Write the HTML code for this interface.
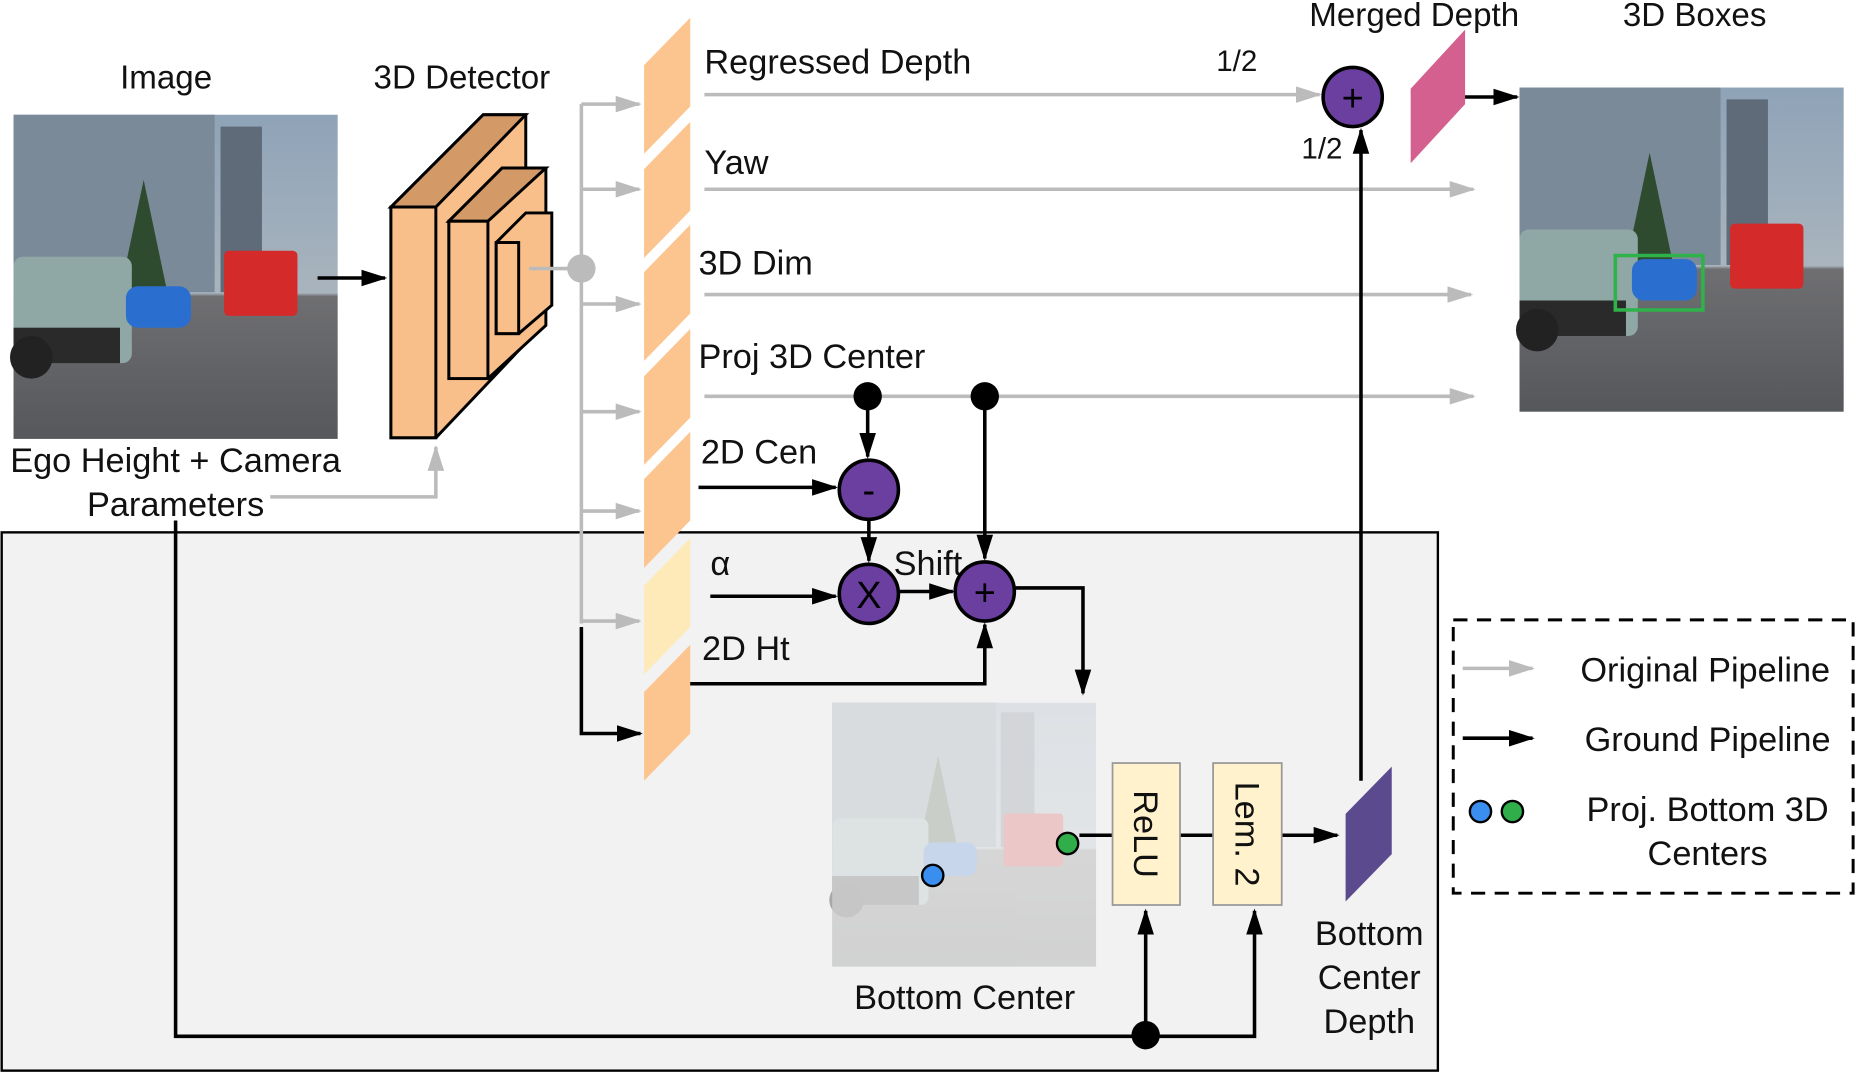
<!DOCTYPE html>
<html><head><meta charset="utf-8"><style>html,body{margin:0;padding:0;background:#fff}svg{display:block}text{font-family:"Liberation Sans",sans-serif;fill:#111}</style></head><body>
<svg width="1856" height="1073" viewBox="0 0 1568 907" xmlns="http://www.w3.org/2000/svg">
<defs>
<marker id="ag" markerWidth="22" markerHeight="14" refX="20" refY="7" orient="auto" markerUnits="userSpaceOnUse"><path d="M0,0 L22,7 L0,14 z" fill="#bbb"/></marker>
<marker id="ab2" markerWidth="22" markerHeight="14" refX="20" refY="7" orient="auto" markerUnits="userSpaceOnUse"><path d="M0,0 L22,7 L0,14 z" fill="#000"/></marker>
<linearGradient id="sky" x1="0" y1="0" x2="0" y2="1"><stop offset="0" stop-color="#8fa3b8"/><stop offset="0.55" stop-color="#a9b4bd"/><stop offset="0.56" stop-color="#6f6f72"/><stop offset="1" stop-color="#55575a"/></linearGradient>
<g id="photo">
<rect x="0" y="0" width="274" height="274" fill="url(#sky)"/>
<rect x="0" y="0" width="170" height="150" fill="#7b8a99"/>
<rect x="175" y="10" width="35" height="140" fill="#5f6b78"/>
<path d="M90,150 L110,55 L130,150z" fill="#2e4a2f"/>
<rect x="0" y="120" width="100" height="90" rx="8" fill="#8fa8a6"/>
<rect x="0" y="180" width="90" height="30" fill="#2a2a2a"/>
<circle cx="15" cy="205" r="18" fill="#222"/>
<rect x="95" y="145" width="55" height="35" rx="10" fill="#2a6fd0"/>
<rect x="178" y="115" width="62" height="55" rx="4" fill="#d42a2a"/>
</g>
</defs>

<rect x="1" y="450" width="1214" height="455" fill="#f2f2f2" stroke="#000" stroke-width="2"/>

<use href="#photo" x="11" y="97"/>
<text x="140" y="75" font-size="28" text-anchor="middle">Image</text>
<line x1="268" y1="235" x2="325" y2="235" stroke="#000" stroke-width="3" marker-end="url(#ab2)"/>

<text x="390" y="75" font-size="28" text-anchor="middle">3D Detector</text>
<g stroke="#000" stroke-width="2.5">
<path d="M330,175 L408,97 L444,97 L444,290 L368,370 L330,370z" fill="#f9bf8a"/>
<path d="M330,175 L408,97 L444,97 L368,175z" fill="#d39a68"/>
<rect x="330" y="175" width="38" height="195" fill="#f9bf8a"/>
<path d="M379,187 L424,142 L461,142 L461,275 L412,320 L379,320z" fill="#f9bf8a"/>
<path d="M379,187 L424,142 L461,142 L412,187z" fill="#d39a68"/>
<rect x="379" y="187" width="33" height="133" fill="#f9bf8a"/>
<path d="M419,205 L444,180 L466,180 L466,258 L438,282 L419,282z" fill="#f9bf8a"/>
<rect x="419" y="205" width="19" height="77" fill="#f9bf8a"/>
</g>
<text x="148" y="399" font-size="29" text-anchor="middle">Ego Height + Camera</text>
<text x="148" y="436" font-size="29" text-anchor="middle">Parameters</text>
<polyline points="228,420 368,420 368,378" fill="none" stroke="#bbb" stroke-width="3" marker-end="url(#ag)"/>

<g stroke="#bbb" stroke-width="3" fill="none">
<line x1="447" y1="227" x2="490" y2="227"/>
<line x1="491" y1="88" x2="491" y2="527"/>
<line x1="491" y1="88" x2="540" y2="88" marker-end="url(#ag)"/>
<line x1="491" y1="160" x2="540" y2="160" marker-end="url(#ag)"/>
<line x1="491" y1="257" x2="540" y2="257" marker-end="url(#ag)"/>
<line x1="491" y1="348" x2="540" y2="348" marker-end="url(#ag)"/>
<line x1="491" y1="432" x2="540" y2="432" marker-end="url(#ag)"/>
<line x1="491" y1="525" x2="540" y2="525" marker-end="url(#ag)"/>
<line x1="595" y1="80" x2="1115" y2="80" marker-end="url(#ag)"/>
<line x1="595" y1="160" x2="1245" y2="160" marker-end="url(#ag)"/>
<line x1="595" y1="249" x2="1243" y2="249" marker-end="url(#ag)"/>
<line x1="595" y1="335" x2="1245" y2="335" marker-end="url(#ag)"/>
</g>
<circle cx="491" cy="227" r="12" fill="#bbb"/>

<g>
<path d="M544,55 L583,15 L583,90 L544,130z" fill="#fcc590"/>
<path d="M544,143 L583,103 L583,178 L544,218z" fill="#fcc590"/>
<path d="M544,230 L583,190 L583,265 L544,305z" fill="#fcc590"/>
<path d="M544,318 L583,278 L583,353 L544,393z" fill="#fcc590"/>
<path d="M544,405 L583,365 L583,440 L544,480z" fill="#fcc590"/>
<path d="M544,495 L583,455 L583,530 L544,570z" fill="#fdeab8"/>
<path d="M544,585 L583,545 L583,620 L544,660z" fill="#fcc590"/>
</g>
<g font-size="29">
<text x="595" y="62">Regressed Depth</text>
<text x="595" y="147">Yaw</text>
<text x="590" y="232">3D Dim</text>
<text x="590" y="311">Proj 3D Center</text>
<text x="592" y="392">2D Cen</text>
<text x="600" y="486">α</text>
<text x="593" y="558">2D Ht</text>
<text x="755" y="486">Shift</text>
</g>

<g stroke="#000" stroke-width="3" fill="none">
<line x1="733" y1="335" x2="733" y2="386" marker-end="url(#ab2)"/>
<line x1="832" y1="335" x2="832" y2="472" marker-end="url(#ab2)"/>
<line x1="590" y1="412" x2="706" y2="412" marker-end="url(#ab2)"/>
<line x1="734" y1="440" x2="734" y2="474" marker-end="url(#ab2)"/>
<line x1="600" y1="504" x2="706" y2="504" marker-end="url(#ab2)"/>
<line x1="760" y1="500" x2="805" y2="500" marker-end="url(#ab2)"/>
<polyline points="583,578 832,578 832,528" marker-end="url(#ab2)"/>
<polyline points="858,497 915,497 915,586" marker-end="url(#ab2)"/>
<polyline points="491,530 491,620 541,620" marker-end="url(#ab2)"/>
<line x1="1083" y1="706" x2="1130" y2="706" marker-end="url(#ab2)"/>
<line x1="1150" y1="660" x2="1150" y2="110" marker-end="url(#ab2)"/>
<line x1="1228" y1="82" x2="1282" y2="82" marker-end="url(#ab2)"/>
<polyline points="148,440 148,876 1060,876 1060,770" marker-end="url(#ab2)"/>
<line x1="968" y1="876" x2="968" y2="770" marker-end="url(#ab2)"/>
</g>
<circle cx="733" cy="335" r="12" fill="#000"/>
<circle cx="832" cy="335" r="12" fill="#000"/>
<circle cx="968" cy="875" r="12" fill="#000"/>
<g stroke="#000" stroke-width="3" fill="#6a3fa0">
<circle cx="734" cy="414" r="25"/>
<circle cx="734" cy="502" r="25"/>
<circle cx="832" cy="500" r="25"/>
<circle cx="1143" cy="82" r="25"/>
</g>
<g font-size="32" text-anchor="middle">
<text x="734" y="425" style="fill:#000">-</text>
<text x="734" y="514" style="fill:#000">X</text>
<text x="832" y="512" style="fill:#000">+</text>
<text x="1143" y="94" style="fill:#000">+</text>
</g>

<text x="1045" y="60" font-size="25" text-anchor="middle">1/2</text>
<text x="1117" y="134" font-size="25" text-anchor="middle">1/2</text>
<text x="1195" y="22" font-size="28" text-anchor="middle">Merged Depth</text>
<path d="M1192,75 L1238,25 L1238,88 L1192,138z" fill="#d4608f"/>
<text x="1432" y="22" font-size="28" text-anchor="middle">3D Boxes</text>
<use href="#photo" x="1284" y="74"/>
<rect x="1365" y="216" width="74" height="46" fill="none" stroke="#2fb24a" stroke-width="3"/>

<g transform="translate(703,594) scale(0.814)" opacity="0.35"><use href="#photo"/></g>
<rect x="703" y="594" width="223" height="223" fill="#f2f2f2" opacity="0.4"/>
<g stroke="#000" stroke-width="3">
<line x1="912" y1="706" x2="940" y2="706"/>
<line x1="997" y1="706" x2="1025" y2="706"/>
</g>
<circle cx="788" cy="740" r="9" fill="#3a8ef0" stroke="#000" stroke-width="2"/>
<circle cx="902" cy="713" r="9" fill="#2fae4a" stroke="#000" stroke-width="2"/>
<text x="815" y="853" font-size="29" text-anchor="middle">Bottom Center</text>

<rect x="940" y="645" width="57" height="120" fill="#fff2cc" stroke="#999" stroke-width="1.5"/>
<rect x="1025" y="645" width="58" height="120" fill="#fff2cc" stroke="#999" stroke-width="1.5"/>
<text transform="translate(958,705) rotate(90)" font-size="29" text-anchor="middle">ReLU</text>
<text transform="translate(1044,705) rotate(90)" font-size="29" text-anchor="middle">Lem. 2</text>
<path d="M1137,688 L1176,648 L1176,722 L1137,762z" fill="#5c4a8f"/>
<g font-size="29" text-anchor="middle">
<text x="1157" y="799">Bottom</text>
<text x="1157" y="836">Center</text>
<text x="1157" y="873">Depth</text>
</g>

<rect x="1228" y="524" width="338" height="231" fill="#fff" stroke="#000" stroke-width="2.5" stroke-dasharray="12,8"/>
<line x1="1236" y1="565" x2="1295" y2="565" stroke="#bbb" stroke-width="3" marker-end="url(#ag)"/>
<line x1="1236" y1="624" x2="1295" y2="624" stroke="#000" stroke-width="3" marker-end="url(#ab2)"/>
<circle cx="1251" cy="686" r="9" fill="#3a8ef0" stroke="#000" stroke-width="2"/>
<circle cx="1278" cy="686" r="9" fill="#2fae4a" stroke="#000" stroke-width="2"/>
<g font-size="29" text-anchor="middle">
<text x="1441" y="576">Original Pipeline</text>
<text x="1443" y="635">Ground Pipeline</text>
<text x="1443" y="694">Proj. Bottom 3D</text>
<text x="1443" y="731">Centers</text>
</g>
</svg>
</body></html>
